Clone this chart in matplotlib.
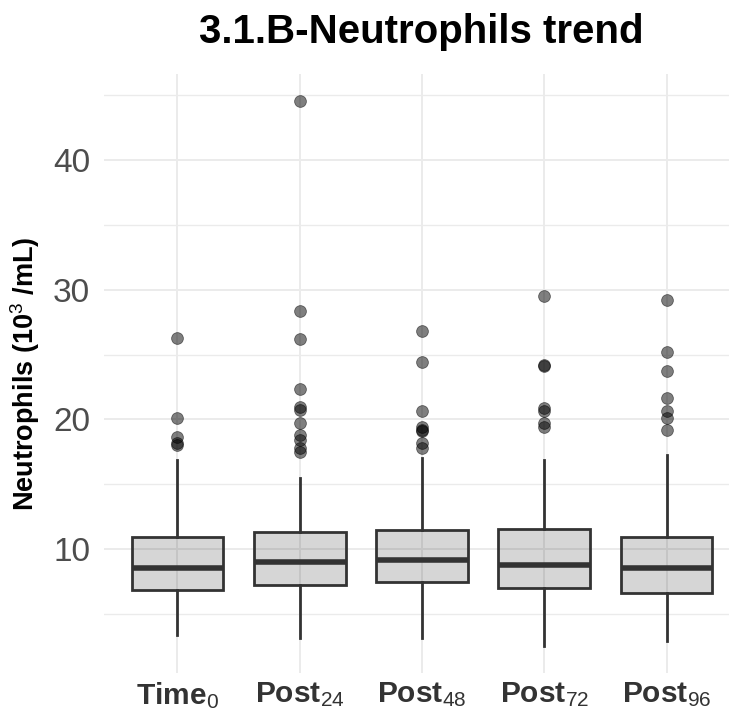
import matplotlib
matplotlib.use("Agg")
import matplotlib.pyplot as plt
from matplotlib.ticker import MultipleLocator

plt.rcParams['font.family'] = ['Liberation Sans', 'DejaVu Sans']
plt.rcParams['mathtext.fontset'] = 'custom'
plt.rcParams['mathtext.rm'] = 'Liberation Sans'
plt.rcParams['mathtext.bf'] = 'Liberation Sans:bold'
plt.rcParams['mathtext.it'] = 'Liberation Sans:italic'

# box statistics
groups = ['Time', 'Post', 'Post', 'Post', 'Post']
subs = ['0', '24', '48', '72', '96']
q1 = [6.84, 7.22, 7.48, 7.02, 6.63]
med = [8.51, 9.02, 9.15, 8.77, 8.51]
q3 = [10.95, 11.31, 11.46, 11.54, 10.95]
wlo = [3.37, 3.11, 3.11, 2.54, 2.90]
whi = [16.86, 15.45, 16.99, 16.86, 17.25]
outliers = [
    [26.25, 20.08, 18.61, 18.15, 18.02],
    [44.54, 28.35, 26.19, 22.31, 20.97, 20.72, 19.74, 18.79, 18.40, 17.76, 17.50],
    [26.81, 24.44, 20.64, 19.43, 19.17, 19.10, 18.19, 17.76],
    [29.50, 24.19, 24.10, 20.90, 20.64, 19.74, 19.38],
    [29.20, 25.21, 23.72, 21.62, 20.64, 20.08, 19.17],
]

stats = []
for i in range(len(groups)):
    stats.append(dict(q1=q1[i], med=med[i], q3=q3[i], whislo=wlo[i],
                      whishi=whi[i], fliers=[]))

fig = plt.figure(figsize=(7.29, 7.15), dpi=100)
# panel runs a little past the right edge, like the cropped original
ax = fig.add_axes([104 / 729, 42 / 715, 636 / 729, 599 / 715])

pos = list(range(1, len(groups) + 1))
ax.bxp(stats, positions=pos, widths=0.75, patch_artist=True, showcaps=False,
       boxprops=dict(facecolor=(0, 0, 0, 0.16), edgecolor='#333333', linewidth=2.0),
       medianprops=dict(color='#333333', linewidth=4.0, solid_capstyle='butt'),
       whiskerprops=dict(color='#333333', linewidth=2.0), zorder=3)

for i, ys in enumerate(outliers):
    ax.plot([pos[i]] * len(ys), ys, 'o', color='black', alpha=0.5,
            markersize=8.5, markeredgewidth=0.6, zorder=4)

ax.set_xlim(0.4, 5.6)
ax.set_ylim(0.44, 46.64)
ax.yaxis.set_major_locator(MultipleLocator(10))
ax.yaxis.set_minor_locator(MultipleLocator(5))
ax.set_xticks(pos)
ax.set_xticklabels([r'$\mathbf{%s}_{\mathrm{%s}}$' % (g, s) for g, s in zip(groups, subs)],
                   fontsize=21.5, color='#333333')
ax.tick_params(axis='y', labelsize=24, labelcolor='#4D4D4D', length=0, pad=10)
ax.tick_params(axis='x', length=0, pad=5)
ax.tick_params(which='minor', length=0)

ax.grid(True, which='major', color='#EBEBEB', linewidth=1.4, zorder=0)
ax.grid(True, which='minor', axis='y', color='#EBEBEB', linewidth=1.0, zorder=0)
ax.set_axisbelow(True)
for sp in ax.spines.values():
    sp.set_visible(False)

ax.set_ylabel(r'Neutrophils (10$^{3}$ /mL)', fontsize=19.5, fontweight='bold', labelpad=8)
fig.text(421 / 729, 1 - 32 / 715, '3.1.B-Neutrophils trend', fontsize=29,
         fontweight='bold', ha='center', va='center')

fig.savefig('out.png', dpi=100)
